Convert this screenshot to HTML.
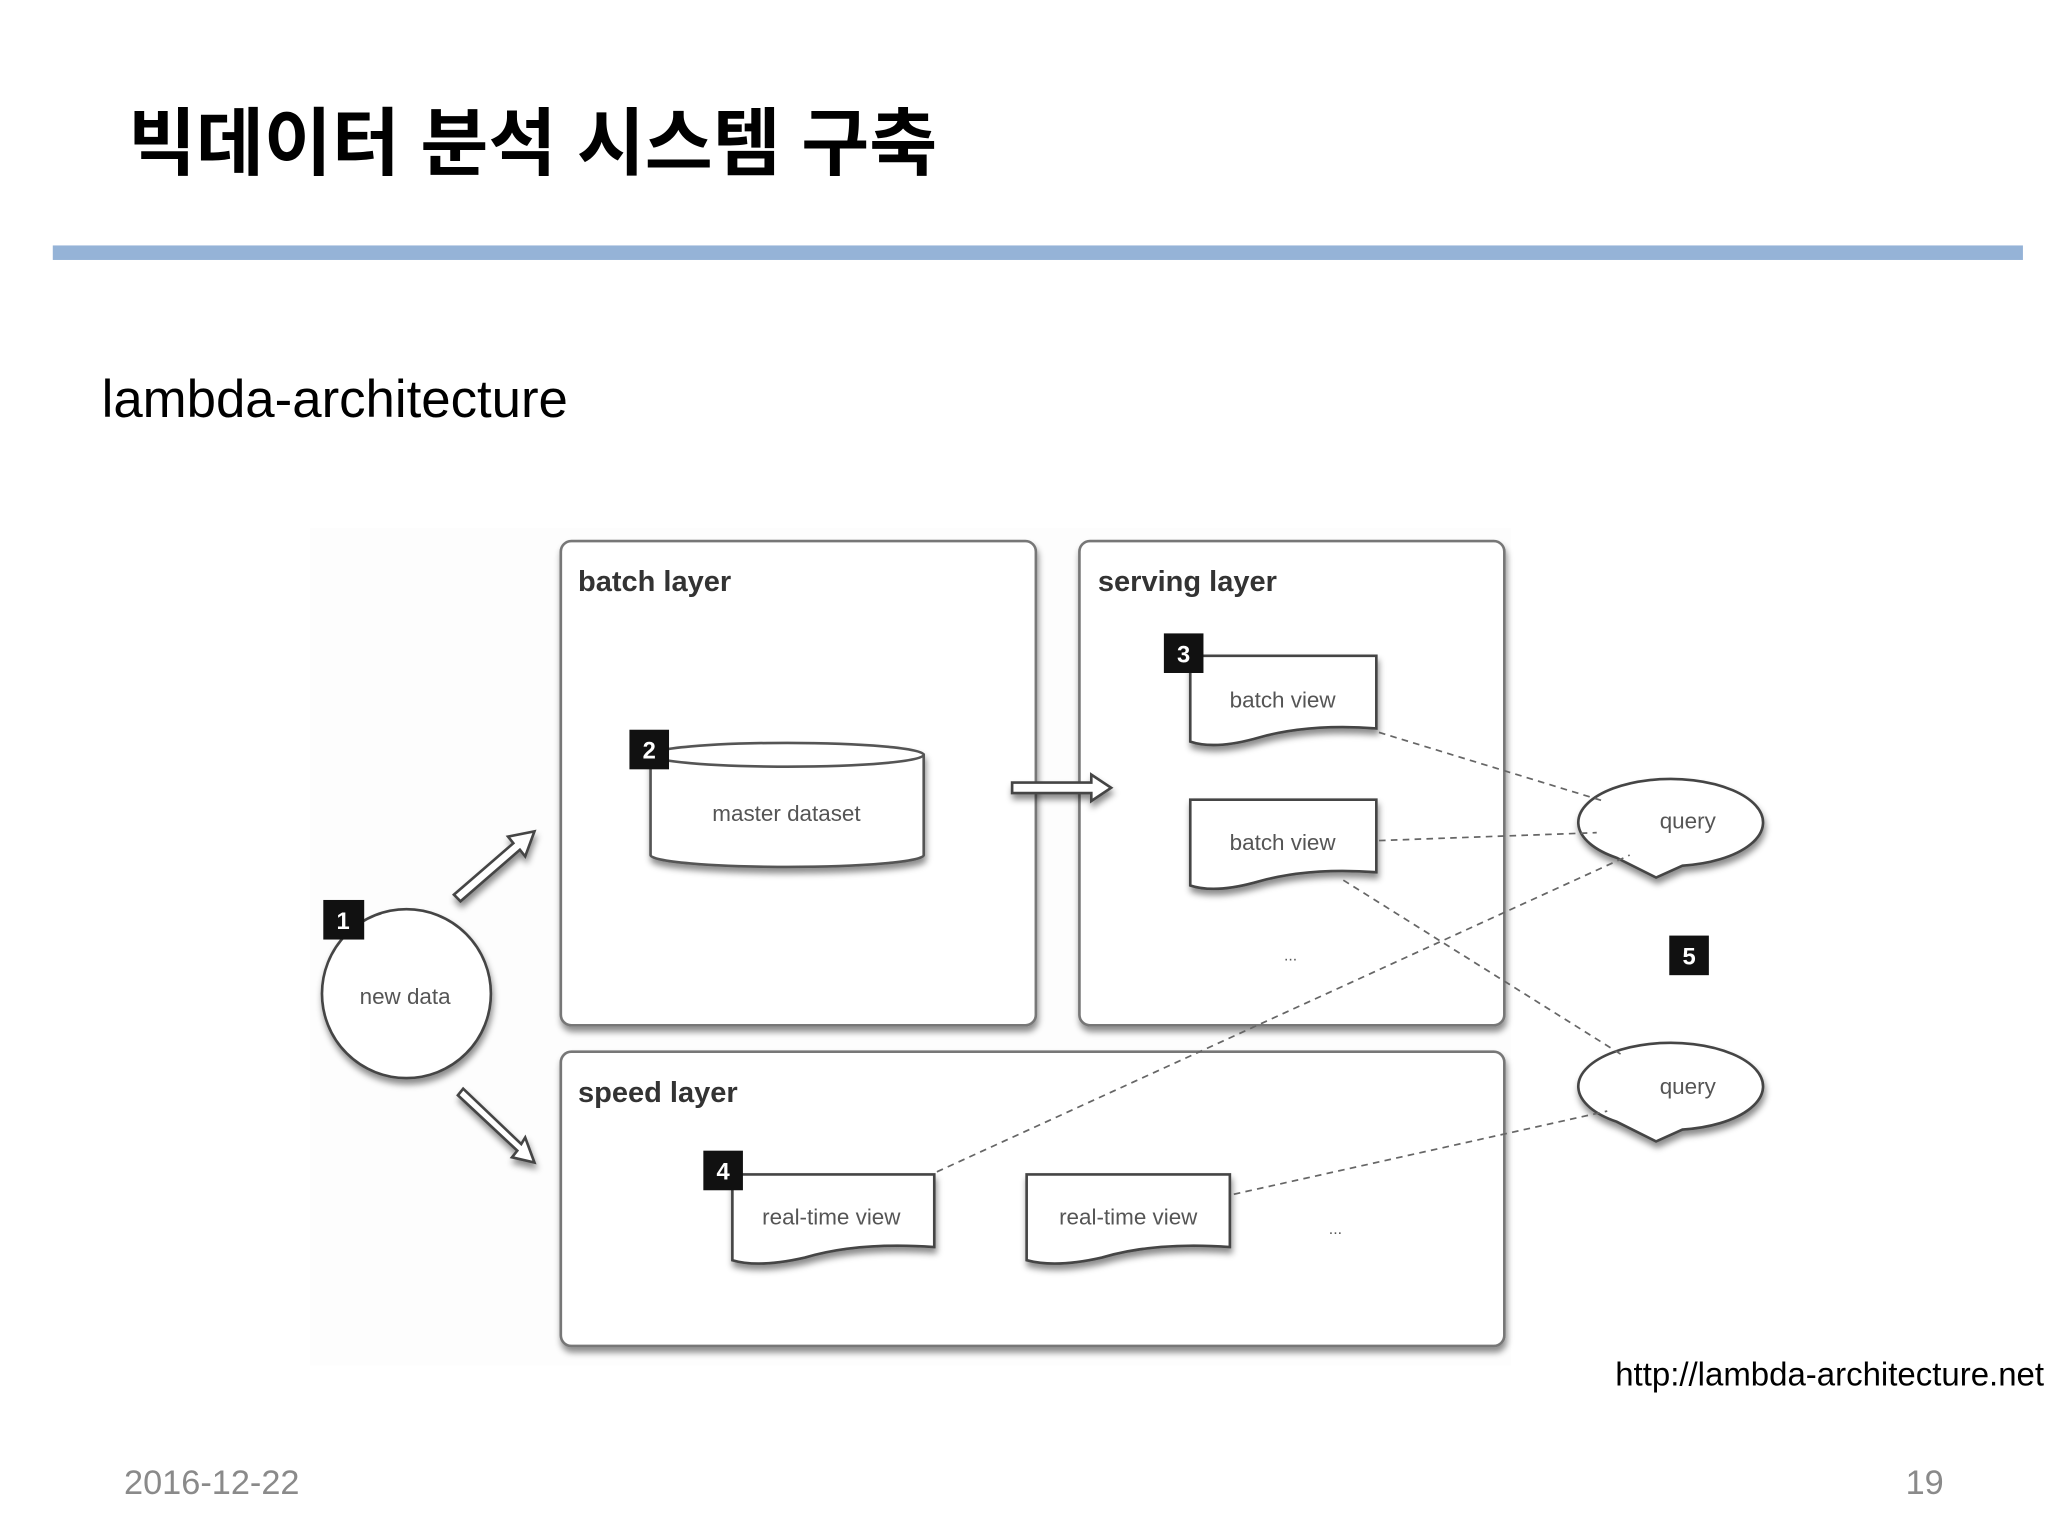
<!DOCTYPE html>
<html><head><meta charset="utf-8"><style>html,body{margin:0;padding:0;background:#fff}svg{display:block}</style></head>
<body>
<svg width="2048" height="1536" viewBox="0 0 1552 1164" preserveAspectRatio="none" xmlns="http://www.w3.org/2000/svg">
<defs>
<filter id="sh" x="-10%" y="-10%" width="120%" height="130%"><feDropShadow dx="1" dy="4" stdDeviation="2.5" flood-color="#000" flood-opacity="0.45"/></filter>
</defs>
<rect width="1552" height="1164" fill="#fff"/>
<text x="97" y="128" font-family="'Liberation Sans','Noto Sans CJK KR',sans-serif" font-weight="bold" font-size="56" fill="#000">빅데이터 분석 시스템 구축</text>
<rect x="40" y="186" width="1493" height="11" fill="#95b3d7"/>
<text x="77" y="316" font-family="'Liberation Sans','Noto Sans CJK KR',sans-serif" font-size="40" fill="#000">lambda-architecture</text>
<rect x="235" y="400" width="910" height="635" fill="#fdfdfd"/>
<g fill="#fff" stroke="#777" stroke-width="2" filter="url(#sh)">
<rect x="425" y="410" width="360" height="367" rx="8"/>
<rect x="818" y="410" width="322" height="367" rx="8"/>
<rect x="425" y="797" width="715" height="223" rx="8"/>
</g>
<g font-family="'Liberation Sans',sans-serif" font-weight="bold" font-size="22" fill="#333">
<text x="438" y="448">batch layer</text>
<text x="832" y="448">serving layer</text>
<text x="438" y="835">speed layer</text>
</g>
<g filter="url(#sh)"><path d="M493 572 L493 648 A103.5 9 0 0 0 700 648 L700 572 Z" fill="#fff" stroke="#555" stroke-width="2"/>
<ellipse cx="596.5" cy="572" rx="103.5" ry="9" fill="#fff" stroke="#555" stroke-width="2"/></g>
<g fill="#fff" stroke="#444" stroke-width="2" filter="url(#sh)">
<path d="M902 497 H1043 V552 Q990 548 950 560 Q920 568 902 562 Z"/>
<path d="M902 606 H1043 V661 Q990 657 950 669 Q920 677 902 671 Z"/>
<path d="M555 890 H708 V945 Q650 941 610 953 Q575 961 555 955 Z"/>
<path d="M778 890 H932 V945 Q875 941 835 953 Q800 961 778 955 Z"/>
<circle cx="308" cy="753" r="64"/>
<path d="M1225 650 A70 33 0 1 1 1275 656 L1255 665 Z"/>
<path d="M1225 850 A70 33 0 1 1 1275 856 L1255 865 Z"/>
</g>
<g font-family="'Liberation Sans',sans-serif" font-size="17" fill="#555" text-anchor="middle">
<text x="596" y="622">master dataset</text>
<text x="972" y="536">batch view</text>
<text x="972" y="644">batch view</text>
<text x="630" y="928">real-time view</text>
<text x="855" y="928">real-time view</text>
<text x="307" y="761">new data</text>
<text x="1279" y="628">query</text>
<text x="1279" y="829">query</text>
<text x="978" y="728" font-size="12">...</text>
<text x="1012" y="935" font-size="12">...</text>
</g>
<g fill="#111"><rect x="245" y="682" width="31" height="30"/><rect x="477" y="553" width="30" height="30"/><rect x="882" y="480" width="30" height="30"/><rect x="533" y="872" width="30" height="30"/><rect x="1265" y="709" width="30" height="30"/></g>
<g font-family="'Liberation Sans',sans-serif" font-weight="bold" font-size="18" fill="#fff" text-anchor="middle">
<text x="260" y="704">1</text><text x="492" y="575">2</text><text x="897" y="502">3</text><text x="548" y="894">4</text><text x="1280" y="731">5</text></g>
<g fill="#fff" stroke="#444" stroke-width="2" filter="url(#sh)">
<path d="M344 678 L389 639 L385 634 L405 630 L398 649 L394 644 L349 683 Z"/>
<path d="M347 830 L392 872 L388 877 L405 881 L398 862 L395 867 L351 825 Z"/>
<path d="M767 593 H827 V587 L842 597 L827 607 V601 H767 Z"/>
</g>
<g stroke="#666" stroke-width="1.3" stroke-dasharray="5,4" fill="none">
<line x1="1045" y1="555" x2="1215" y2="607"/>
<line x1="1045" y1="637" x2="1210" y2="631"/>
<line x1="1018" y1="667" x2="1230" y2="800"/>
<line x1="710" y1="888" x2="1235" y2="648"/>
<line x1="935" y1="905" x2="1218" y2="842"/>
</g>
<text x="1549" y="1050" text-anchor="end" font-family="'Liberation Sans',sans-serif" font-size="25" fill="#000">http://lambda-architecture.net</text>
<text x="94" y="1132" font-family="'Liberation Sans',sans-serif" font-size="26" fill="#8a8a8a">2016-12-22</text>
<text x="1473" y="1132" text-anchor="end" font-family="'Liberation Sans',sans-serif" font-size="26" fill="#8a8a8a">19</text>
</svg>
</body></html>
